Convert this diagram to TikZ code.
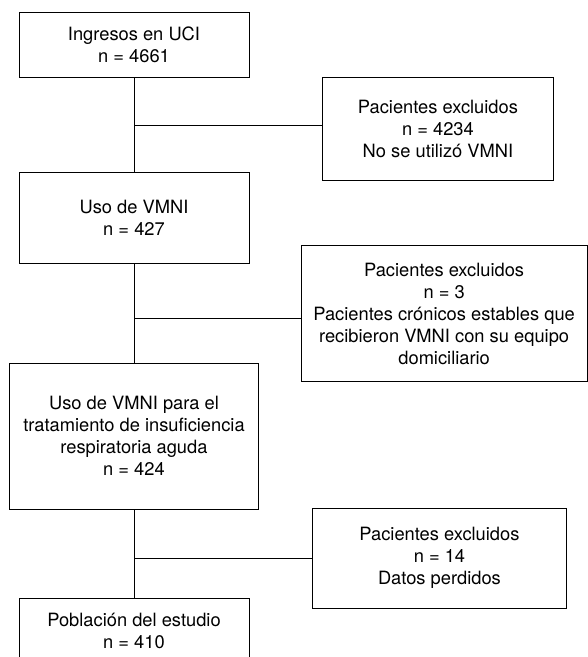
\documentclass[tikz,border=0pt]{standalone}
\usepackage{fontspec}
\setmainfont{TeX Gyre Heros}
\usetikzlibrary{positioning, calc}

\begin{document}
\begin{tikzpicture}[x=1pt, y=-1pt, node distance=94pt,
   caja/.style = {draw, line width=0.9pt, align=center, inner sep=0pt,
      font=\fontsize{18.3}{22}\selectfont},
   linea/.style = {line width=0.9pt}]
   \useasboundingbox (0,0) rectangle (588,657);
   \clip (0,0) rectangle (588,657);

   % main column
   \node[caja, minimum width=230pt, minimum height=65pt] (ing) at (134,45)
      {Ingresos en UCI\\n = 4661};
   \node[caja, minimum width=230pt, minimum height=91pt, below=94pt of ing] (uso)
      {Uso de VMNI\\n = 427};
   \node[caja, minimum width=249pt, minimum height=146pt, below=99pt of uso] (ira)
      {Uso de VMNI para el\\tratamiento de insuficiencia\\respiratoria aguda\\n = 424};
   \node[caja, minimum width=230pt, minimum height=66pt, below=88pt of ira] (pob)
      {Población del estudio\\n = 410};

   \coordinate (b1) at ($(ing.south)!0.5!(uso.north)$);
   \coordinate (b2) at ($(uso.south)!0.55!(ira.north)$);
   \coordinate (b3) at ($(ira.south)!0.55!(pob.north)$);

   % excluded
   \node[caja, minimum width=231pt, minimum height=103pt, right=188pt of b1, yshift=-4pt] (ex1)
      {Pacientes excluidos\\n = 4234\\No se utilizó VMNI};
   \node[caja, minimum width=286pt, minimum height=136pt, right=166.7pt of b2, yshift=4.5pt] (ex2)
      {Pacientes excluidos\\n = 3\\Pacientes crónicos estables que\\recibieron VMNI con su equipo\\domiciliario};
   \node[caja, minimum width=254pt, minimum height=100pt, right=178pt of b3] (ex3)
      {Pacientes excluidos\\n = 14\\Datos perdidos};

   \draw[linea] (ing) -- (uso);
   \draw[linea] (uso) -- (ira);
   \draw[linea] (ira) -- (pob);
   \draw[linea] (b1) -- (b1 -| ex1.west);
   \draw[linea] (b2) -- (b2 -| ex2.west);
   \draw[linea] (b3) -- (b3 -| ex3.west);
\end{tikzpicture}
\end{document}
